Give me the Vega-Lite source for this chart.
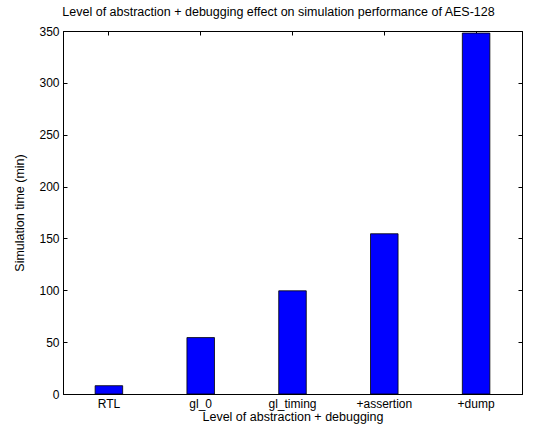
{
  "$schema": "https://vega.github.io/schema/vega-lite/v6.json",
  "autosize": "none",
  "width": 459,
  "height": 363,
  "padding": {"left": 63, "top": 31, "right": 11, "bottom": 36},
  "background": "white",
  "config": {
    "font": "Liberation Sans",
    "view": {"stroke": "black", "strokeWidth": 1},
    "axis": {"grid": false, "domainColor": "black", "tickColor": "black", "labelColor": "black", "titleColor": "black", "labelFont": "Liberation Sans", "titleFont": "Liberation Sans", "labelFontSize": 12, "titleFontSize": 12.5, "titleFontWeight": "normal"}
  },
  "title": {"text": "Level of abstraction + debugging effect on simulation performance of AES-128", "fontSize": 12.5, "fontWeight": "normal", "font": "Liberation Sans", "color": "black", "anchor": "middle", "dx": -14, "offset": 7},
  "data": {"values": [
    {"level": "RTL", "time": 8},
    {"level": "gl_0", "time": 54.4},
    {"level": "gl_timing", "time": 99.5},
    {"level": "+assertion", "time": 154.5},
    {"level": "+dump", "time": 348}
  ]},
  "layer": [
    {
      "mark": {"type": "bar", "fill": "#0000FF", "stroke": "black", "strokeWidth": 0.8},
      "encoding": {
        "x": {"field": "level", "type": "nominal", "sort": null,
          "scale": {"paddingInner": 0.7, "paddingOuter": 0.35},
          "axis": {"orient": "bottom", "title": "Level of abstraction + debugging", "labelAngle": 0, "tickSize": -4, "labelPadding": 8, "titlePadding": 1}},
        "y": {"field": "time", "type": "quantitative",
          "scale": {"domain": [0, 350], "nice": false},
          "axis": {"orient": "left", "title": "Simulation time (min)", "values": [0, 50, 100, 150, 200, 250, 300, 350], "tickSize": -4, "labelPadding": 8, "titlePadding": 12}}
      }
    },
    {
      "mark": {"type": "bar", "opacity": 0},
      "encoding": {
        "x": {"field": "level", "type": "nominal", "sort": null,
          "scale": {"paddingInner": 0.7, "paddingOuter": 0.35},
          "axis": {"orient": "top", "title": null, "labels": false, "tickSize": -4}},
        "y": {"field": "time", "type": "quantitative",
          "scale": {"domain": [0, 350], "nice": false},
          "axis": {"orient": "right", "title": null, "labels": false, "values": [0, 50, 100, 150, 200, 250, 300, 350], "tickSize": -4}}
      }
    }
  ],
  "resolve": {"axis": {"x": "independent", "y": "independent"}}
}
